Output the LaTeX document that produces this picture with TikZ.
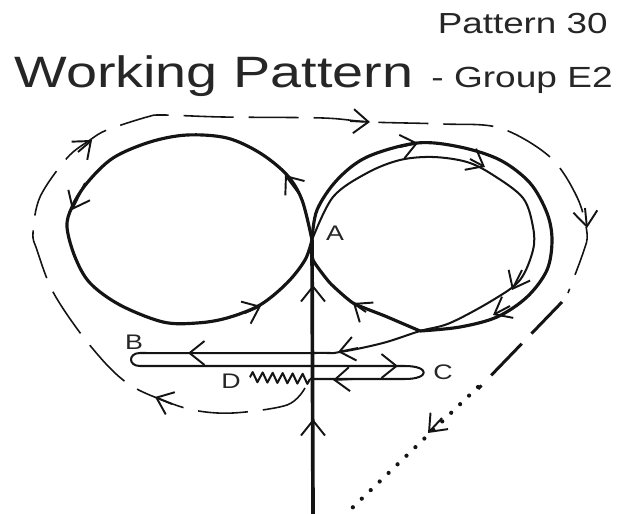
\documentclass[tikz,border=0pt]{standalone}
\usepackage{fontspec}
\setmainfont{Liberation Sans}
\newfontfamily\fuenteAncha[FakeStretch=1.27]{Liberation Sans}
\usetikzlibrary{arrows.meta, decorations.pathmorphing}
\colorlet{colTrazo}{black!92}
\colorlet{colTexto}{black!85}
\tikzset{
  trazoGrueso/.style={draw=colTrazo, line width=1.8pt, line join=round},
  trazoFino/.style={draw=colTrazo, line width=1.15pt, line join=round},
  trazoCortado/.style={draw=colTrazo, line width=.9pt, dash pattern=on 1cm off .3cm},
  trazoLargo/.style={draw=colTrazo, line width=1.7pt, dash pattern=on .88cm off .28cm},
  trazoPuntos/.style={draw=colTrazo, line width=2.4pt, line cap=round, dash pattern=on 0pt off 2.48mm},
  punta/.style={draw=colTrazo, line width=1.1pt, -{Straight Barb[length=3mm, width=4.8mm]}},
  titulo/.style={text=colTexto, inner sep=0pt},
  etiqueta/.style={font=\fuenteAncha\fontsize{12}{14}\selectfont, text=colTexto, inner sep=0pt},
}

\begin{document}
\begin{tikzpicture}[x=.02cm, y=-.02cm]
    \useasboundingbox (0,0) rectangle (633,514);
    % titles
    \node[titulo, anchor=base east, font=\fuenteAncha\fontsize{16.5}{20}\selectfont] (patron) at (608,33) {Pattern 30};
    \node[titulo, anchor=base west, font=\fuenteAncha\fontsize{25}{30}\selectfont] (nombre) at (14,87) {Working Pattern};
    \node[titulo, anchor=base east, font=\fuenteAncha\fontsize{16.6}{20}\selectfont] (grupo) at (613,87) {- Group E2};

    \coordinate (puntoA) at (312,240);
    \coordinate (entrada) at (313,514);
    \coordinate (muelleIni) at (250,377);
    \coordinate (muelleFin) at (310,379);

    \node[etiqueta] (etiqA) at (335,233) {A};
    \node[etiqueta] (etiqB) at (134,342) {B};
    \node[etiqueta] (etiqC) at (443,372) {C};
    \node[etiqueta] (etiqD) at (231,381) {D};

    % left circle
    \draw[trazoGrueso] plot[smooth, tension=.55] coordinates {(puntoA) (302,200) (287,175) (260,153) (227,138) (187,135) (150,142) (113,158) (87,183) (72,207) (67,227) (75,257) (90,283) (120,305) (163,322) (197,323) (227,318) (260,305) (287,283) (305,260) (puntoA)};
    % right loop
    \draw[trazoGrueso] plot[smooth, tension=.55] coordinates {(puntoA) (317,210) (337,180) (367,157) (417,143) (460,147) (500,160) (530,183) (547,213) (552,240) (547,270) (527,297) (497,317) (460,327) (420,331)};
    \draw[trazoGrueso] plot[smooth, tension=.3] coordinates {(420,331) (385,316) (353,303) (330,283) (313,260) (puntoA)};
    % inner line, then out to B, C and D
    \draw[trazoFino] plot[smooth, tension=.55] coordinates {(puntoA) (333,197) (367,173) (400,160) (433,157) (467,162) (493,175) (523,198) (533,227) (533,250) (520,280) (493,300) (450,323) (420,331) (383,343) (340,352) (313,353) (140,353)};
    \draw[trazoFino] (140,353) .. controls (128,353) and (128,366) .. (140,366) -- (405,366)
      .. controls (430,366) and (430,379) .. (405,379) -- (muelleFin);
    \draw[trazoFino, decorate, decoration={zigzag, segment length=2mm, amplitude=1mm}] (muelleFin) -- (muelleIni);
    % outer line
    \draw[trazoCortado] plot[smooth, tension=.55] coordinates {(305,388) (287,405) (233,413) (193,410) (157,398) (130,385) (107,365) (78,330) (52,290) (37,250) (33,233) (40,197) (67,158) (90,140) (107,130) (147,117) (163,115) (223,117) (323,118) (370,122) (443,124) (500,128) (550,157) (577,197) (587,233) (583,253) (568,293)};
    \draw[trazoLargo] (562,302) -- (478,389);
    \draw[trazoPuntos] (478,387) -- (350,510);
    % final approach
    \draw[draw=colTrazo, line width=2.1pt] (entrada) -- (puntoA);

    \foreach \xa/\ya/\xb/\yb in {
      300/195/285/175, 85/183/72/210, 245/313/261/306,
      400/147/418/143, 470/159/485/167, 522/270/512/290, 510/306/493/315,
      366/312/353/303, 358/348/338/352, 208/353/188/353,
      380/366/398/366, 353/379/333/380,
      313/440/313/419, 313/305/313/285,
      350/121/370/122, 585/208/587/228, 78/152/92/140, 172/404/155/397,
      442/418/428/433}
      \draw[punta] (\xa,\ya) -- (\xb,\yb);
  \end{tikzpicture}
\end{document}
